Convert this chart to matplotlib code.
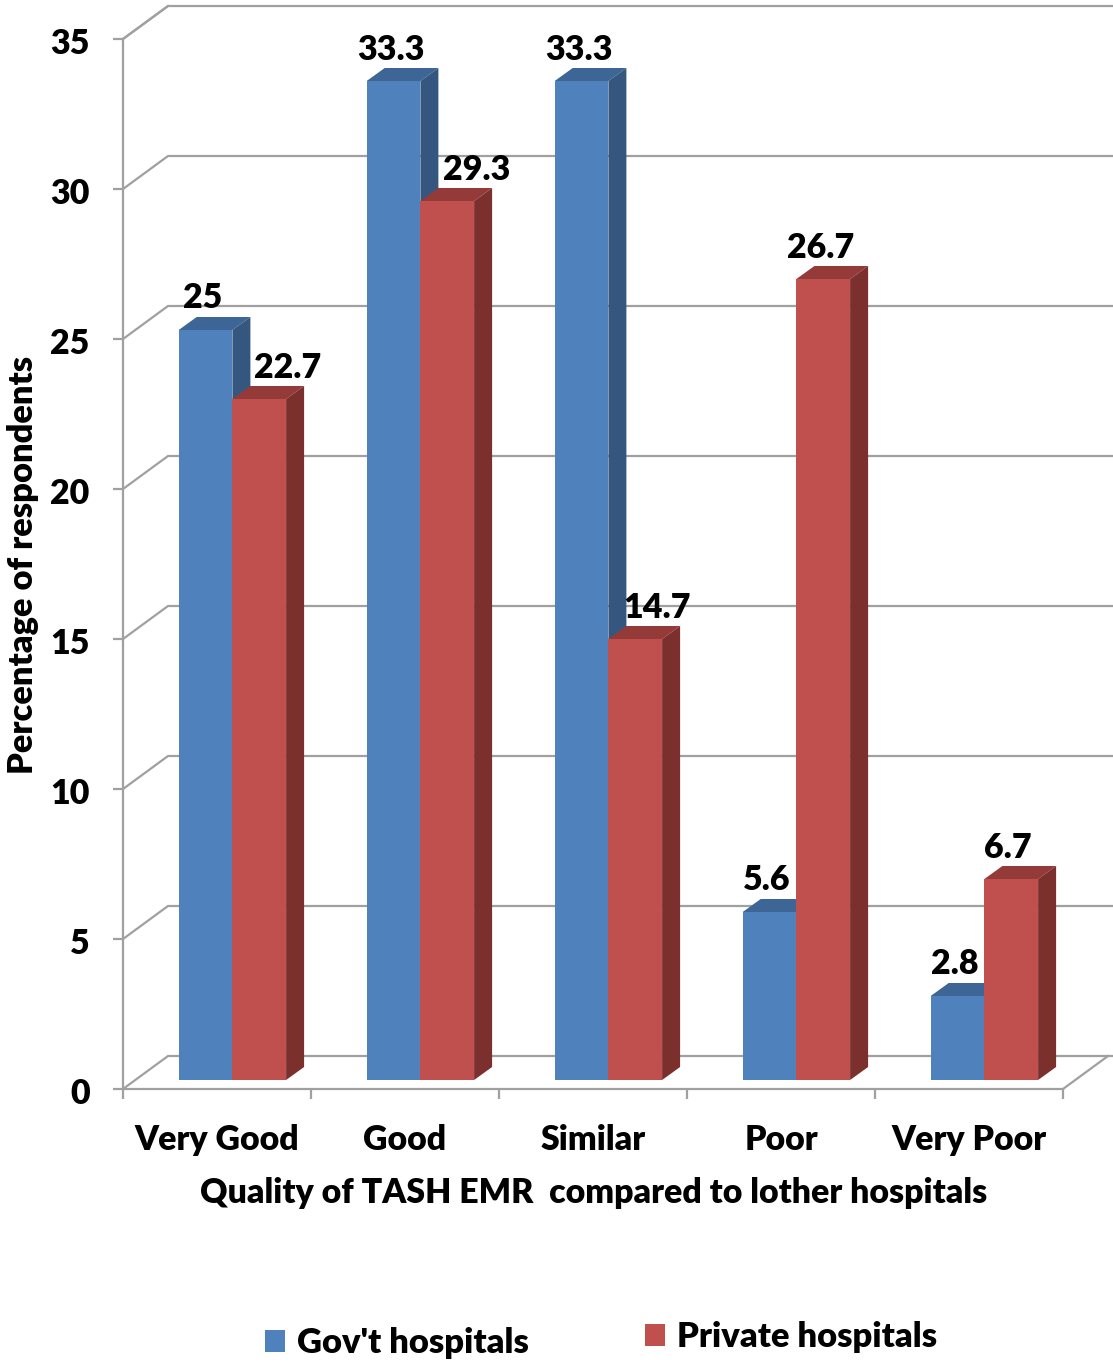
import matplotlib
matplotlib.use("Agg")
import matplotlib.pyplot as plt
from matplotlib.patches import Polygon, Patch
from matplotlib.transforms import ScaledTranslation

categories = ["Very Good", "Good", "Similar", "Poor", "Very Poor"]
govt = [25, 33.3, 33.3, 5.6, 2.8]
private = [22.7, 29.3, 14.7, 26.7, 6.7]
value_labels_govt = ["25", "33.3", "33.3", "5.6", "2.8"]
value_labels_private = ["22.7", "29.3", "14.7", "26.7", "6.7"]
yticks = [0, 5, 10, 15, 20, 25, 30, 35]
label_nudge_private = [28, 29, 22, -3, -3]

W, H = 1113, 1362
plt.rcParams['font.family'] = ['Lato', 'DejaVu Sans']
WEIGHT = 'heavy'
plt.rcParams['font.weight'] = WEIGHT
fig = plt.figure(figsize=(W/100, H/100), dpi=100)
L, R, T, B = 123, 1063, 39, 1089
ax = fig.add_axes([L/W, 1-B/H, (R-L)/W, (B-T)/H])
ax.set_xlim(0, 5); ax.set_ylim(0, 35)
ax.patch.set_visible(False)
for s in ax.spines.values():
    s.set_visible(False)

px = 5/(R-L); py = 35/(B-T)   # data units per pixel
wx, wy = 45*px, 33*py         # depth of the walls
bx, by = 18*px, 13*py         # depth of the bars
GRID = '#a0a0a0'
xend = (W-L)*px

# walls and floor
ax.plot([0, wx], [35, 35+wy], color=GRID, lw=1.6, clip_on=False)
for v in yticks:
    ax.plot([0, wx, xend], [v, v+wy, v+wy], color=GRID, lw=1.6, clip_on=False, zorder=1)
ax.plot([5, 5+wx], [0, wy], color=GRID, lw=1.6, clip_on=False, zorder=1)
ax.plot([0, 0], [0, 35], color=GRID, lw=1.6, clip_on=False, zorder=1)
ax.plot([0, 5], [0, 0], color=GRID, lw=1.6, clip_on=False, zorder=1)

ax.set_xticks(range(6)); ax.set_xticklabels([])
ax.set_yticks(yticks)
ax.tick_params(axis='both', color=GRID, width=1.6, length=7)
ax.tick_params(axis='y', labelsize=24.5, pad=17, labelcolor='black')
shift = ScaledTranslation(0, -2/100, fig.dpi_scale_trans)
for lab in ax.get_yticklabels():
    lab.set_transform(lab.get_transform() + shift)
ax.set_xlabel("")

def bar3d(x0, w, v, front, top, side, z):
    y0 = 9*py
    ax.add_patch(Polygon([(x0, y0+v), (x0+w, y0+v), (x0+w+bx, y0+v+by), (x0+bx, y0+v+by)],
                         fc=top, ec='none', zorder=z, clip_on=False))
    ax.add_patch(Polygon([(x0+w, y0), (x0+w+bx, y0+by), (x0+w+bx, y0+v+by), (x0+w, y0+v)],
                         fc=side, ec='none', zorder=z, clip_on=False))
    ax.bar(x0, v, w, bottom=y0, align='edge', color=front, zorder=z+.1, clip_on=False)

bw = 53.7*px
off = 55.7*px
FS = 24.5
for i, (g, p) in enumerate(zip(govt, private)):
    bar3d(i+off, bw, g, '#4F81BD', '#3D6595', '#35577F', 3)
    bar3d(i+off+bw, bw, p, '#C0504D', '#943A38', '#7B302E', 4)
    ax.text(i+off+bw/2-3*px, g+by+9*py+2.5*py, value_labels_govt[i], ha='center', va='bottom', fontsize=FS, zorder=6, clip_on=False)
    ax.text(i+off+1.5*bw+label_nudge_private[i]*px, p+by+9*py+2.5*py, value_labels_private[i], ha='center', va='bottom', fontsize=FS, zorder=6, clip_on=False)
    ax.text(i+.5, -51*py, categories[i], ha='center', va='center', fontsize=24.4, clip_on=False)

fig.text(593.5/W, 1-1193/H, "Quality of TASH EMR  compared to lother hospitals", ha='center', va='center', fontsize=24.4)
fig.text(23/W, 1-565/H, "Percentage of respondents", rotation=90, ha='center', va='center', fontsize=24.8)

for face, label, x, y in [('#4F81BD', "Gov't hospitals", 265, 1342), ('#C0504D', "Private hospitals", 645, 1336)]:
    fig.legend(handles=[Patch(fc=face, label=label)], loc='center left',
               bbox_to_anchor=(x/W, 1-(y+1)/H), frameon=False, fontsize=24.8, handlelength=.58, handleheight=.58,
               handletextpad=.34, borderpad=0, borderaxespad=0)
fig.savefig("out.png", dpi=100)
